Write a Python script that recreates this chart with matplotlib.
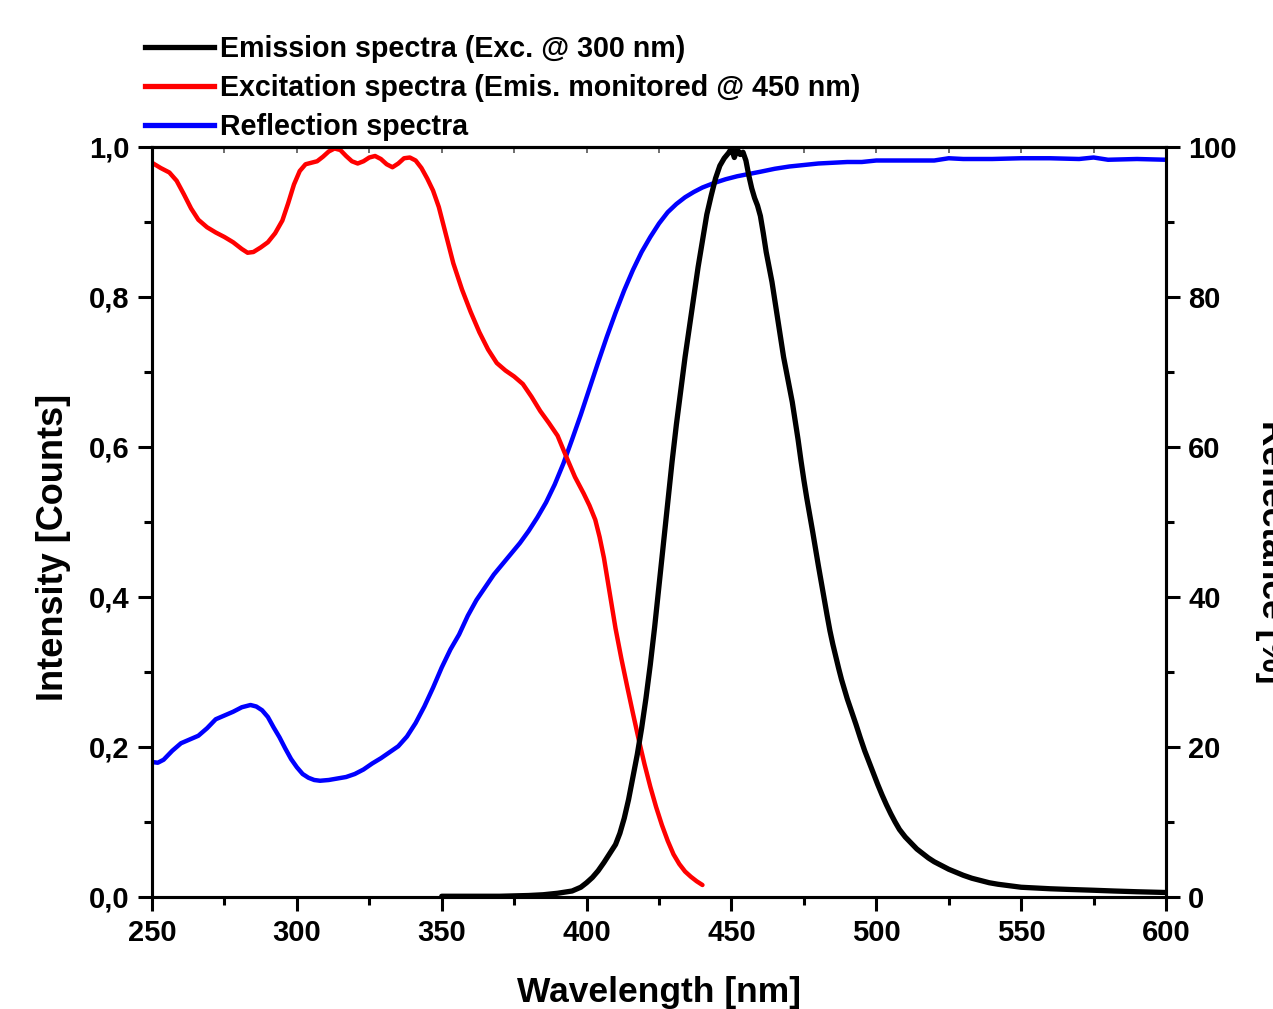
import matplotlib
matplotlib.use("Agg")
import matplotlib.pyplot as plt
from matplotlib.ticker import MultipleLocator, FuncFormatter
from matplotlib.lines import Line2D

plt.rcParams['font.family'] = ['Liberation Sans', 'DejaVu Sans']
plt.rcParams['font.weight'] = 'bold'

# ---------------- data ----------------
em_wl = [350, 360, 370, 380, 385, 390, 395, 398, 400, 402, 404, 406, 408, 410, 411.5, 413,
         414.5, 416, 417.5, 419, 420.5, 422, 423.5, 425, 426.5, 428, 429.5, 431, 432.5, 434,
         435.5, 437, 438.5, 440, 441.5, 443, 444.5, 446, 447.5, 449, 450, 451, 452, 453, 454,
         455, 456, 457, 458, 459, 460, 461, 462, 463, 464, 465, 466, 467, 468, 469, 470, 471,
         472, 473, 474, 475, 476, 477, 478, 479, 480, 481, 482, 483, 484, 485, 486, 487, 488,
         489, 490, 491.5, 493, 494.5, 496, 497.5, 499, 500.5, 502, 503.5, 505, 506.5, 508, 510,
         512, 514, 516, 518, 520, 522.5, 525, 527.5, 530, 533, 536, 539, 542, 546, 550, 555,
         560, 567, 575, 582, 590, 600]
em = [0.001, 0.001, 0.001, 0.002, 0.003, 0.005, 0.008, 0.013, 0.019, 0.026, 0.035, 0.046,
      0.058, 0.07, 0.085, 0.105, 0.13, 0.16, 0.19, 0.225, 0.265, 0.31, 0.36, 0.415, 0.47,
      0.525, 0.58, 0.63, 0.675, 0.72, 0.76, 0.8, 0.84, 0.875, 0.91, 0.935, 0.958, 0.975,
      0.985, 0.992, 0.998, 0.986, 0.997, 0.99, 0.993, 0.982, 0.962, 0.945, 0.932, 0.922,
      0.908, 0.885, 0.86, 0.84, 0.82, 0.795, 0.77, 0.745, 0.72, 0.70, 0.68, 0.66, 0.635,
      0.61, 0.582, 0.556, 0.532, 0.51, 0.488, 0.465, 0.442, 0.42, 0.398, 0.376, 0.355, 0.337,
      0.321, 0.305, 0.29, 0.277, 0.264, 0.247, 0.23, 0.212, 0.195, 0.18, 0.165, 0.15, 0.136,
      0.123, 0.111, 0.1, 0.09, 0.08, 0.072, 0.064, 0.058, 0.052, 0.047, 0.042, 0.037, 0.033,
      0.029, 0.025, 0.022, 0.019, 0.017, 0.015, 0.013, 0.012, 0.011, 0.01, 0.009, 0.008,
      0.007, 0.006]

ex_wl = [250, 253, 256, 258.5, 261, 263.5, 266, 269, 272, 275, 278, 281, 283, 285, 287.5, 290,
         292.5, 295, 297, 299, 301, 303, 305, 307, 309, 311, 313, 315, 317, 319, 321, 323, 325,
         327, 329, 331, 333, 335, 337, 339, 341, 343, 345, 347, 349, 351, 354, 357, 360, 363,
         366, 369, 372, 375, 378, 381, 384, 387, 390, 393, 396, 399, 401, 403, 404.5, 406, 408,
         410, 412, 414, 416, 418, 420, 422, 424, 426, 428, 430, 432, 434, 436, 438, 440]
ex = [0.979, 0.972, 0.966, 0.955, 0.937, 0.918, 0.903, 0.893, 0.886, 0.88, 0.873, 0.864, 0.859,
      0.86, 0.866, 0.873, 0.885, 0.902, 0.925, 0.95, 0.968, 0.977, 0.979, 0.981, 0.987, 0.994,
      0.998, 0.996, 0.988, 0.981, 0.978, 0.981, 0.986, 0.988, 0.984, 0.977, 0.973, 0.978,
      0.985, 0.986, 0.982, 0.972, 0.958, 0.942, 0.92, 0.89, 0.845, 0.81, 0.78, 0.753, 0.73,
      0.712, 0.702, 0.694, 0.684, 0.667, 0.648, 0.632, 0.615, 0.587, 0.56, 0.538, 0.522,
      0.503, 0.48, 0.452, 0.405, 0.358, 0.318, 0.281, 0.245, 0.21, 0.177, 0.147, 0.12, 0.096,
      0.075, 0.057, 0.044, 0.034, 0.027, 0.021, 0.016]

rf_wl = [250, 252, 254, 257, 260, 263, 266, 269, 272, 275, 278, 281, 284, 286, 288, 290, 292,
         294, 296, 298, 300, 302, 304, 306, 308, 311, 314, 317, 320, 323, 326, 329, 332, 335,
         338, 341, 344, 347, 350, 353, 356, 359, 362, 365, 368, 371, 374, 377, 380, 383, 386,
         389, 392, 395, 398, 401, 404, 407, 410, 413, 416, 419, 422, 425, 428, 431, 434, 437,
         440, 444, 448, 452, 456, 460, 465, 470, 475, 480, 485, 490, 495, 500, 510, 520, 525,
         530, 540, 550, 560, 570, 575, 580, 590, 600]
rf = [18.0, 17.9, 18.3, 19.5, 20.5, 21.0, 21.5, 22.5, 23.7, 24.2, 24.7, 25.3, 25.6, 25.4, 24.9,
      24.0, 22.6, 21.3, 19.8, 18.4, 17.3, 16.4, 15.9, 15.6, 15.5, 15.6, 15.8, 16.0, 16.4, 17.0,
      17.8, 18.5, 19.3, 20.1, 21.4, 23.2, 25.4, 27.9, 30.6, 33.0, 35.0, 37.5, 39.6, 41.3, 43.0,
      44.4, 45.8, 47.2, 48.8, 50.6, 52.6, 55.0, 57.8, 61.0, 64.3, 67.8, 71.3, 74.7, 77.9,
      80.9, 83.6, 86.0, 88.0, 89.8, 91.3, 92.4, 93.3, 94.0, 94.6, 95.2, 95.7, 96.1, 96.4,
      96.7, 97.1, 97.4, 97.6, 97.8, 97.9, 98.0, 98.0, 98.2, 98.2, 98.2, 98.5, 98.4, 98.4,
      98.5, 98.5, 98.4, 98.6, 98.3, 98.4, 98.3]

labels = ["Emission spectra (Exc. @ 300 nm)",
          "Excitation spectra (Emis. monitored @ 450 nm)",
          "Reflection spectra"]
colors = ["#000000", "#ff0000", "#0000ff"]

# ---------------- figure ----------------
W, H = 1273, 1009
fig = plt.figure(figsize=(W / 100, H / 100), dpi=100)
L, R, T, B = 152, 1166, 147, 897
ax = fig.add_axes([L / W, 1 - B / H, (R - L) / W, (B - T) / H])
ax2 = ax.twinx()
ax.set_zorder(ax2.get_zorder() + 1)
ax.patch.set_visible(False)

ax2.plot(rf_wl, rf, color=colors[2], lw=3.2, solid_capstyle='round', solid_joinstyle='round')
ax.plot(ex_wl, ex, color=colors[1], lw=3.2, solid_capstyle='round', solid_joinstyle='round')
ax.plot(em_wl, em, color=colors[0], lw=3.8, solid_capstyle='round', solid_joinstyle='round')

ax.set_xlim(250, 600)
ax.set_ylim(0, 1.0)
ax2.set_ylim(0, 100)

ax.xaxis.set_major_locator(MultipleLocator(50))
ax.xaxis.set_minor_locator(MultipleLocator(25))
ax.yaxis.set_major_locator(MultipleLocator(0.2))
ax.yaxis.set_minor_locator(MultipleLocator(0.1))
ax.yaxis.set_major_formatter(FuncFormatter(lambda v, p: f"{v:.1f}".replace('.', ',')))
ax2.yaxis.set_major_locator(MultipleLocator(20))
ax2.yaxis.set_minor_locator(MultipleLocator(10))

for a in (ax, ax2):
    for s in a.spines.values():
        s.set_linewidth(2.2)

ax.tick_params(axis='both', which='major', direction='out', length=10, width=2.2,
               labelsize=21, pad=6)
ax.tick_params(axis='both', which='minor', direction='out', length=6, width=2.2)
ax.tick_params(axis='y', right=False)
ax2.tick_params(axis='y', which='major', direction='out', length=10, width=2.2,
                labelsize=21, pad=6)
ax2.tick_params(axis='y', which='minor', direction='out', length=6, width=2.2)
for lab in ax.get_xticklabels() + ax.get_yticklabels() + ax2.get_yticklabels():
    lab.set_fontweight('bold')

sec = ax.secondary_xaxis('top')
sec.xaxis.set_major_locator(MultipleLocator(50))
sec.xaxis.set_minor_locator(MultipleLocator(25))
sec.tick_params(axis='x', which='both', direction='in', length=4, width=1.2,
                labeltop=False, color='#555555')
sec.spines['top'].set_linewidth(2.2)

# axis labels
fig.text(54 / W, 1 - 547 / H, "Intensity [Counts]", rotation=90, ha='center', va='center',
         fontsize=26, fontweight='bold')
fig.text(659 / W, 1 - 1002 / H, "Wavelength [nm]", ha='center', va='baseline',
         fontsize=25.5, fontweight='bold')
fig.text(1255 / W, 1 - 552 / H, "Reflectance [%]", rotation=270, ha='left', va='center',
         fontsize=25.5, fontweight='bold')

# legend
handles = [Line2D([], [], color=c, lw=3.8) for c in colors]
fig.legend(handles, labels, loc='upper left', bbox_to_anchor=(145 / W, 1 - 35 / H),
           frameon=False, handlelength=2.4, handletextpad=0.22,
           labelspacing=0.38, borderpad=0, borderaxespad=0,
           prop={'weight': 'bold', 'size': 20.6})

fig.savefig("out.png", dpi=100)
